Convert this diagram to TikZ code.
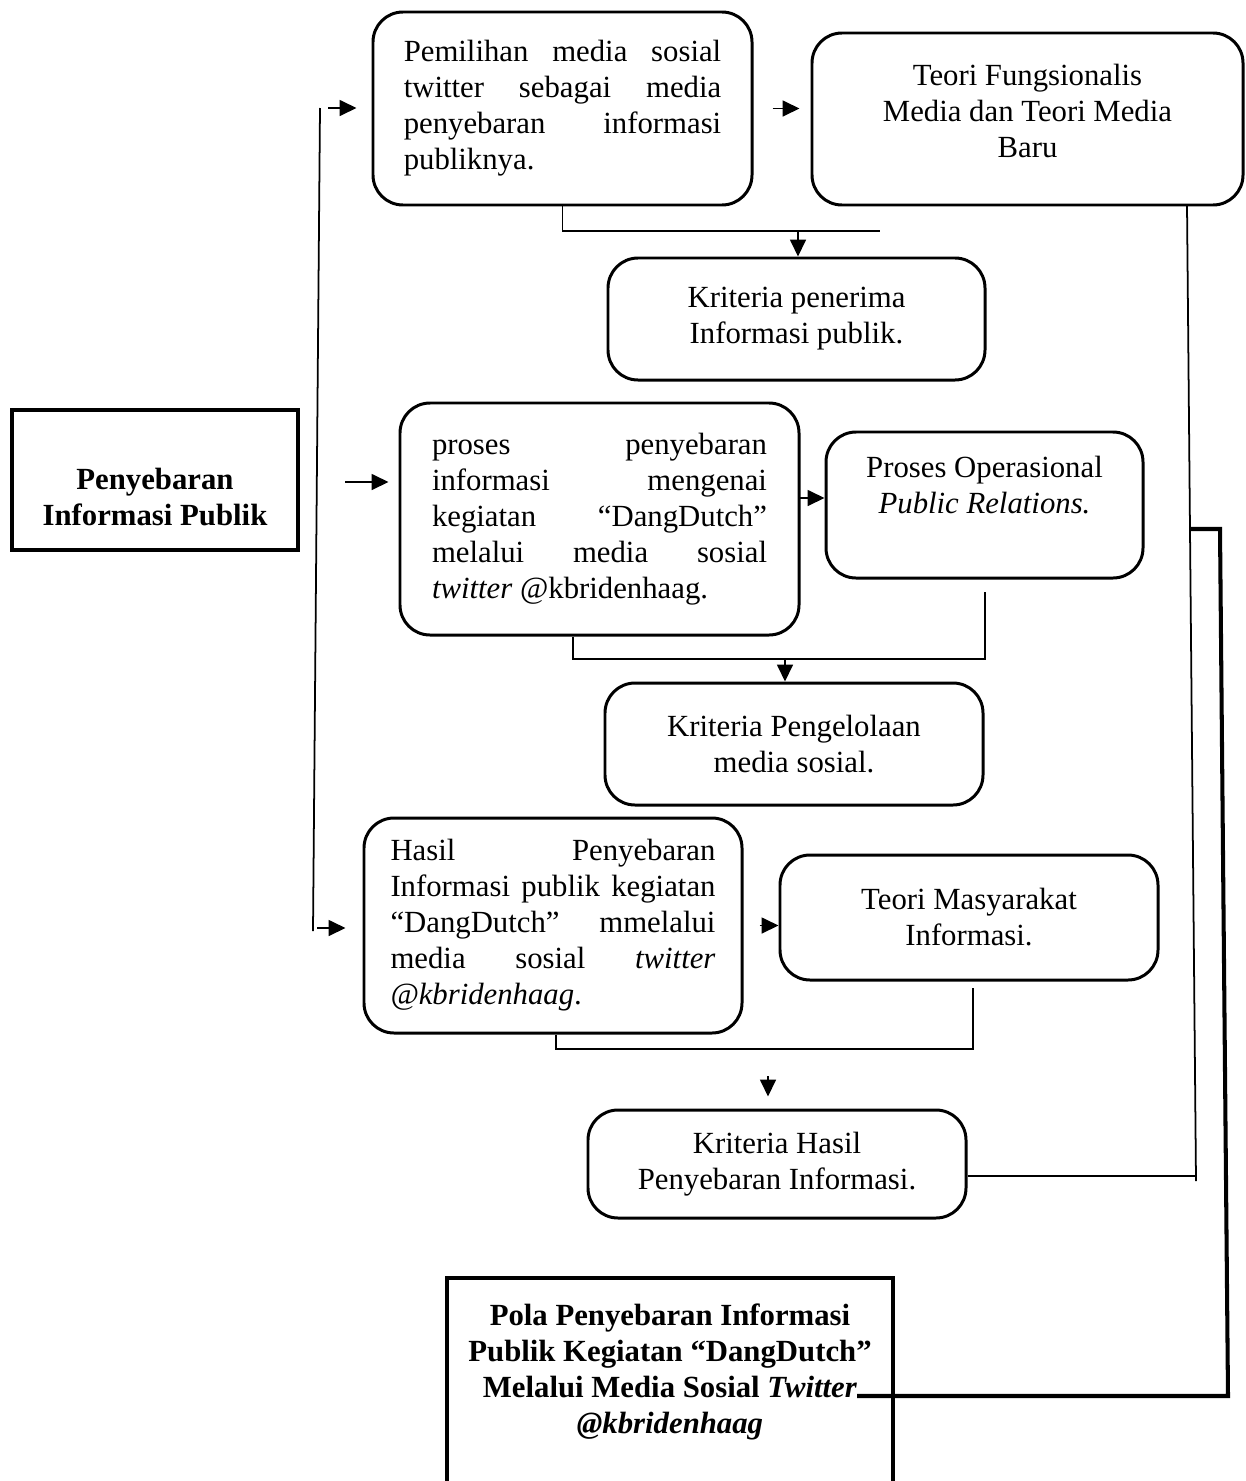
\documentclass[tikz,border=0pt]{standalone}
\usepackage{fontspec}
\setmainfont{Liberation Serif}
\usetikzlibrary{calc}
\usetikzlibrary{arrows.meta}
\hyphenpenalty=10000
\exhyphenpenalty=10000

\tikzset{
  rbox/.style={draw, line width=1.7pt, rounded corners=6mm, inner sep=0pt,
    font=\fontsize{17.5}{20.5}\selectfont},
  jbox/.style={rbox, align=justify},
  cbox/.style={rbox, align=center},
  mainbox/.style={draw, line width=2.3pt, inner sep=0pt, align=center,
    font=\fontsize{17.5}{20.5}\selectfont\bfseries},
  conn/.style={line width=1pt},
  thickconn/.style={line width=2.3pt, line join=miter},
}

\begin{document}
\begin{tikzpicture}[x=.2mm, y=-.2mm, >={Triangle[length=3.4mm,width=3.2mm]}]
\useasboundingbox (0,0) rectangle (1245,1481);

% boxes
\node[mainbox, minimum width=57.2mm, minimum height=28mm, text height=52pt] (src) at (155,480)
  {Penyebaran\\Informasi Publik};
\node[jbox, text width=63.5mm, minimum width=75.8mm, minimum height=38.6mm] (b1) at (562.5,108.5)
  {Pemilihan media sosial\linebreak twitter sebagai media\linebreak penyebaran informasi\linebreak publiknya.};
\node[cbox, minimum width=86.2mm, minimum height=34.4mm, text depth=9pt] (b2) at (1027.5,119)
  {Teori Fungsionalis\\Media dan Teori Media\\Baru};
\node[cbox, minimum width=75.4mm, minimum height=24.4mm] (b3) at (796.5,319)
  {Kriteria penerima\\Informasi publik.};
\node[jbox, text width=67mm, minimum width=79.8mm, minimum height=46.4mm] (b4) at (599.5,519)
  {proses penyebaran\linebreak informasi mengenai\linebreak kegiatan “DangDutch”\linebreak melalui media sosial\linebreak \textit{twitter} @kbridenhaag.};
\node[cbox, minimum width=63.4mm, minimum height=29.2mm, text depth=23pt] (b5) at (984.5,505)
  {Proses Operasional\\\textit{Public Relations.}};
\node[cbox, minimum width=75.6mm, minimum height=24.4mm] (b6) at (794,744)
  {Kriteria Pengelolaan\\media sosial.};
\node[jbox, text width=65mm, minimum width=75.6mm, minimum height=43mm] (b7) at (553,925.5)
  {Hasil Penyebaran\linebreak Informasi publik kegiatan\linebreak “DangDutch” mmelalui\linebreak media sosial \textit{twitter}\linebreak \textit{@kbridenhaag}.};
\node[cbox, minimum width=75.6mm, minimum height=25mm] (b8) at (969,917.5)
  {Teori Masyarakat\\Informasi.};
\node[cbox, minimum width=75.6mm, minimum height=21.6mm] (b9) at (777,1164)
  {Kriteria Hasil\\Penyebaran Informasi.};
\node[mainbox, minimum width=89.2mm, minimum height=42.8mm, text depth=19pt] (pola) at (670,1385)
  {Pola Penyebaran Informasi\\Publik Kegiatan “DangDutch”\\Melalui Media Sosial \textit{Twitter}\\\textit{@kbridenhaag}};

% left feed line
\coordinate (lt) at (320,108);
\coordinate (lb) at (313,931);
\draw[conn] (lt) -- (lb);
\coordinate (in1) at (328,108);
\coordinate (in2) at (345,482);
\coordinate (in3) at (317,928);
\draw[conn,->,shorten >=3mm] (in1) -- (in1 -| b1.west);
\draw[conn,->,shorten >=2mm] (in2) -- (in2 -| b4.west);
\draw[conn,->,shorten >=3.4mm] (in3) -- (in3 -| b7.west);

% side arrows
\coordinate (s2) at (799,498);
\draw[conn,->,shorten <=3.8mm,shorten >=2.2mm] (b1.east) -- (b1.east -| b2.west);
\draw[conn,->] (s2) -- (s2 -| b5.west);
\draw[conn,->,shorten <=3.2mm] (b7.east) -- (b7.east -| b8.west);

% first bracket
\coordinate (j1) at (798,231);
\draw[conn] (b1.south) |- (j1) -- ++(82,0);
\draw[conn,->] (j1) -- (j1 |- b3.north);

% second bracket
\coordinate (c2a) at (573,659);
\coordinate (c2b) at (985,659);
\coordinate (j2) at (785,659);
\draw[conn] (c2a |- b4.south) -- (c2a) -- (c2b) -- ++(0,-67);
\draw[conn,->] (j2) -- (j2 |- b6.north);

% third bracket
\coordinate (c3a) at (556,1049);
\coordinate (c3b) at (973,1049);
\coordinate (j3) at (768,1076);
\draw[conn] (c3a |- b7.south) -- (c3a) -- (c3b) -- ++(0,-61);
\draw[conn,->,shorten >=2.4mm] (j3) -- (j3 |- b9.north);

% right side
\coordinate (rt) at (1187,205);
\coordinate (rb) at (1196,1181);
\coordinate (rh) at (1196,1176);
\draw[conn] (rt) -- (rb);
\draw[conn] (rh -| b9.east) -- (rh);
\coordinate (t1) at (1190,529);
\coordinate (t2) at (1220,529);
\coordinate (t3) at (1228,1396);
\coordinate (t4) at (857,1396);
\draw[thickconn] (t1) -- (t2) -- (t3) -- (t4);
\end{tikzpicture}
\end{document}
